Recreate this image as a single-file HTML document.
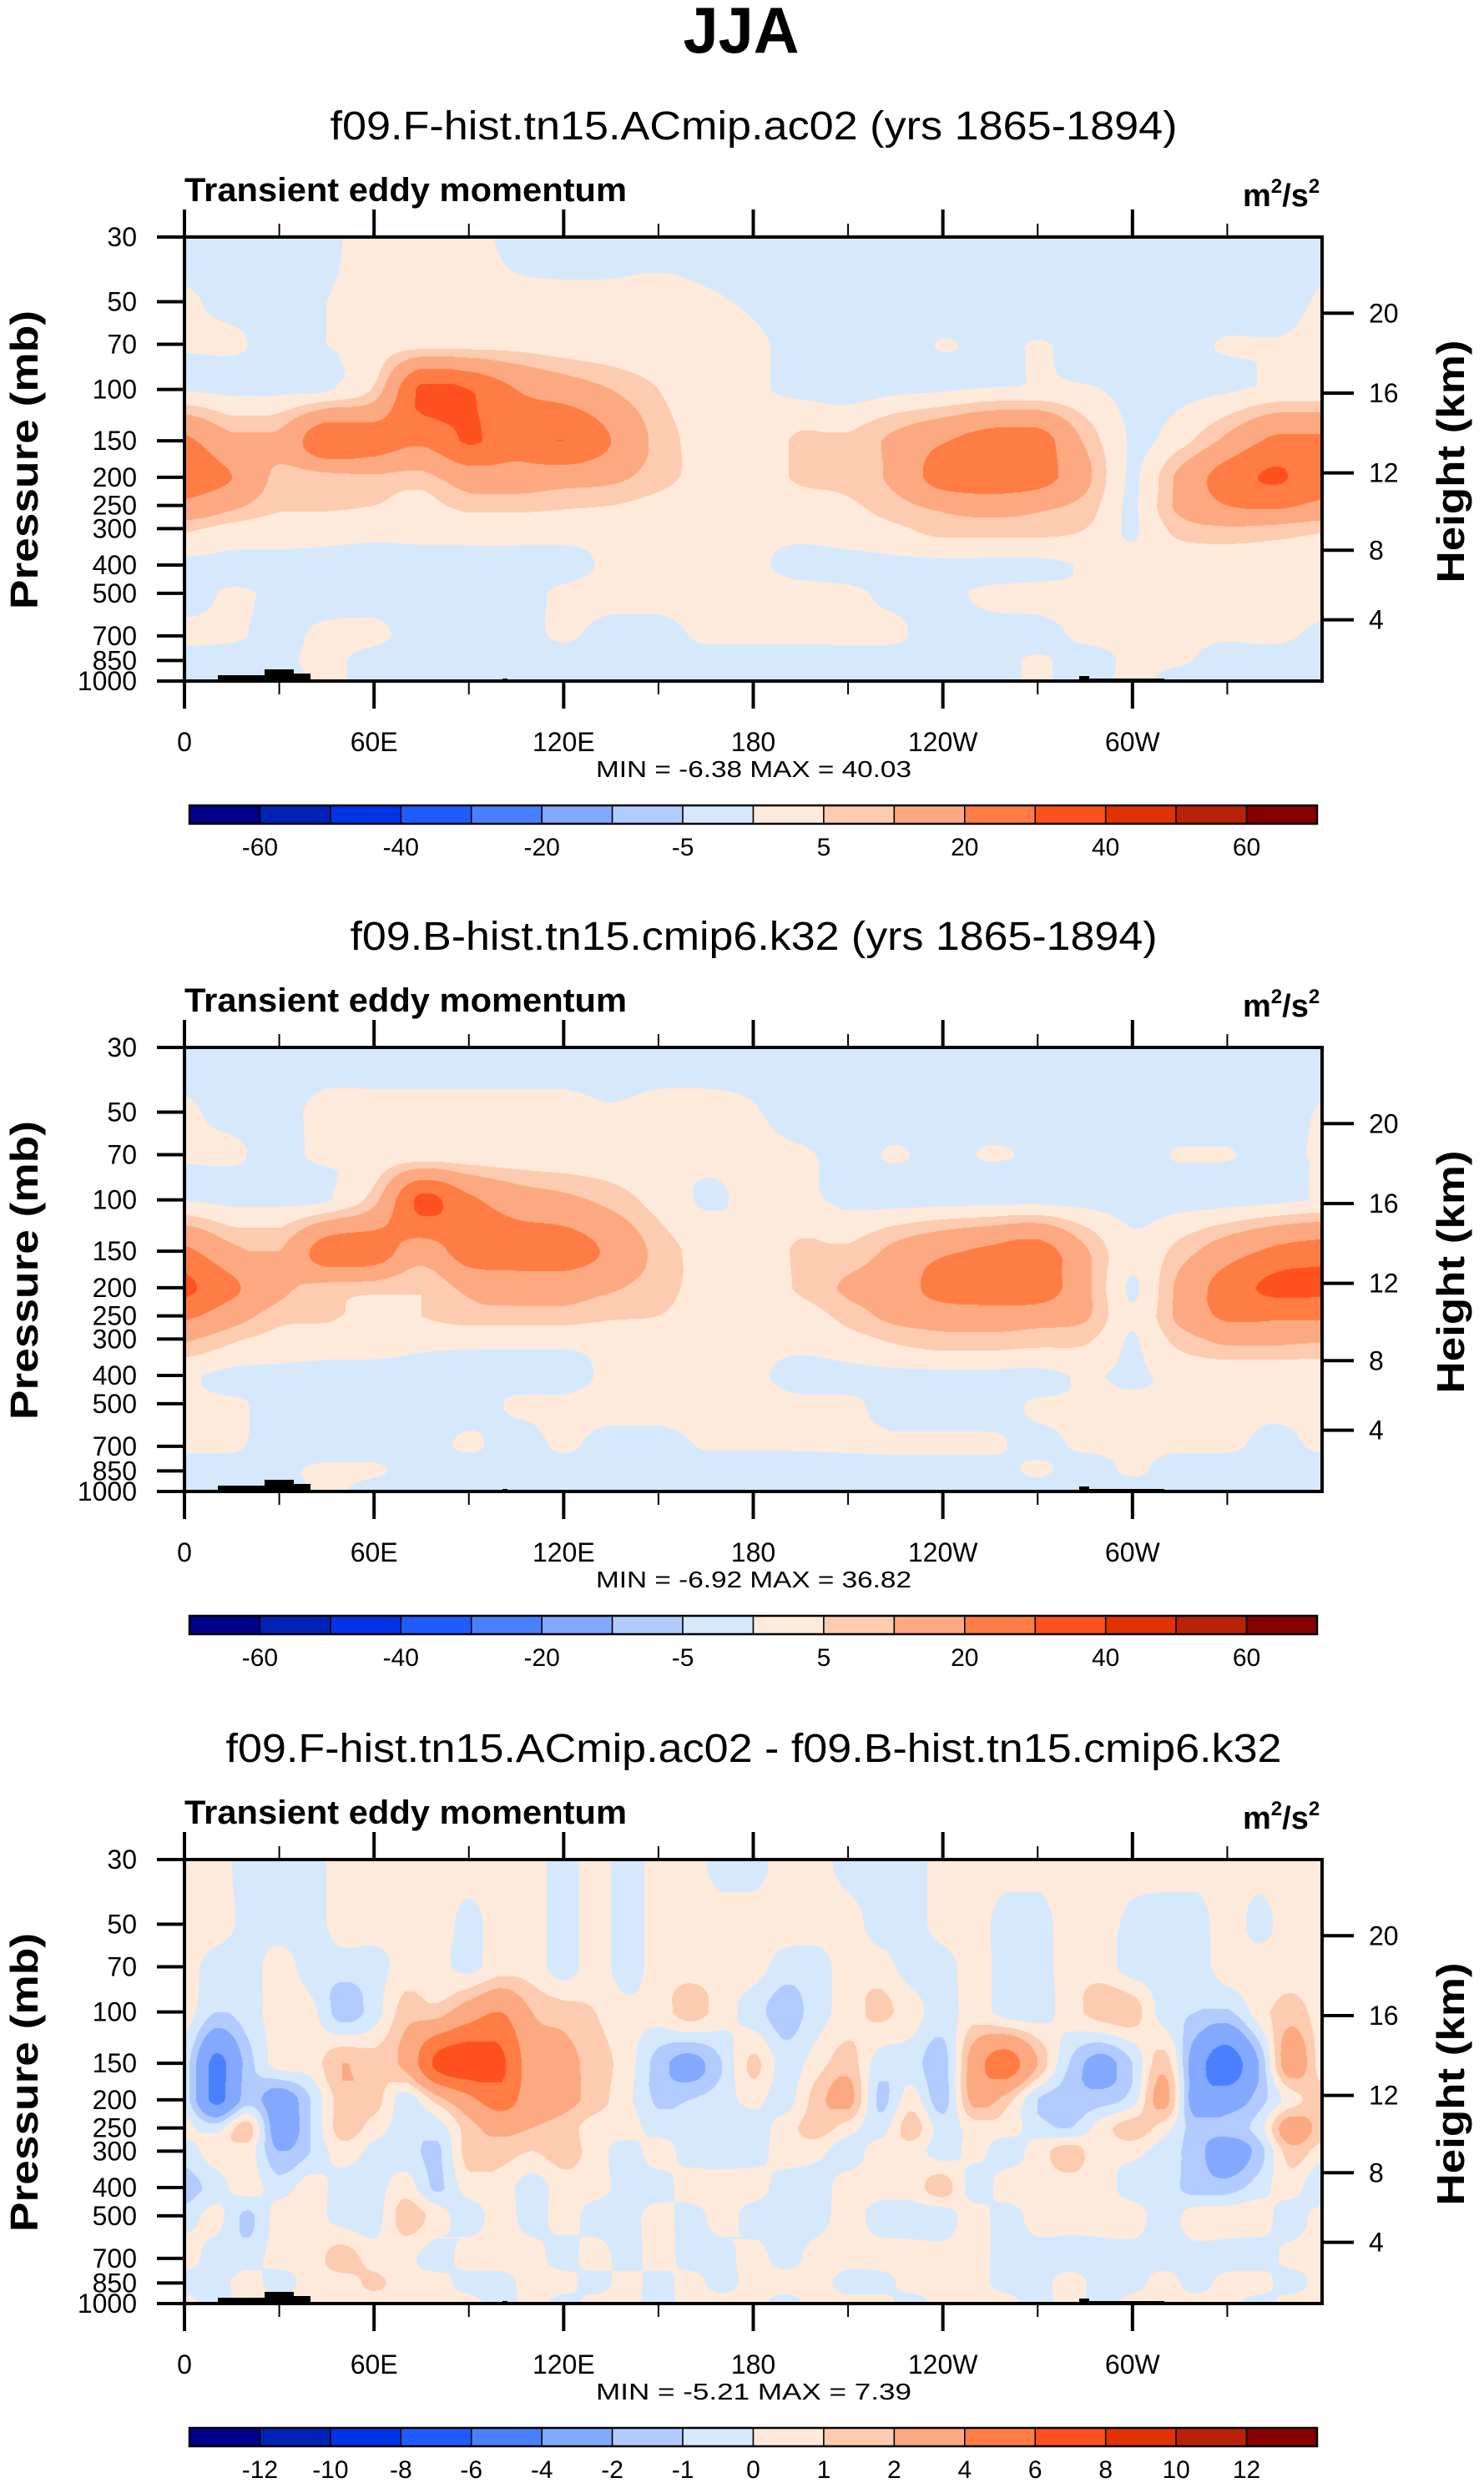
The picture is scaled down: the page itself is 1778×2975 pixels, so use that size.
<!DOCTYPE html>
<html><head><meta charset="utf-8"><title>JJA Transient eddy momentum</title>
<style>
html,body{margin:0;padding:0;background:#fff;}
#root{position:relative;width:1778px;height:2975px;overflow:hidden;background:#fff;}
canvas{position:absolute;}
svg{position:absolute;left:0;top:0;}
text{font-family:"Liberation Sans",Arial,sans-serif;fill:#000;}
</style></head>
<body>
<div id="root">
<canvas id="c0" width="1363" height="532" style="left:221px;top:284px"></canvas>
<canvas id="c1" width="1363" height="532" style="left:221px;top:1255px"></canvas>
<canvas id="c2" width="1363" height="532" style="left:221px;top:2228px"></canvas>
<svg id="svg" width="1778" height="2975" viewBox="0 0 1778 2975">
<text x="888" y="63" font-size="78" font-weight="bold" text-anchor="middle" textLength="139" lengthAdjust="spacingAndGlyphs">JJA</text>
</svg>
</div>
<script>
// ---------- data ----------
const levels = [30,50,70,100,150,200,250,300,400,500,700,850,1000];
const lonsA = [0,15,30,45,60,75,90,105,120,135,150,165,180,195,210,225,240,255,270,285,300,315,330,345,360];
const lonsB = [0,10,20,30,40,50,60,70,80,90,100,110,120,130,140,150,160,170,180,190,200,210,220,230,240,250,260,270,280,290,300,310,320,330,340,350,360];
const contourLevelsAbs = [-60,-50,-40,-30,-20,-10,-5,0,5,10,20,30,40,50,60];
const contourLevelsDiff = [-12,-10,-8,-6,-4,-2,-1,0,1,2,4,6,8,10,12];
const cbLabelsAbs = ["-60","-40","-20","-5","5","20","40","60"];
const cbLabelsDiff = ["-12","-10","-8","-6","-4","-2","-1","0","1","2","4","6","8","10","12"];
const xTickLons = [0,60,120,180,240,300];
const xTickLabels = ["0","60E","120E","180","120W","60W"];
const xMinorLons = [30,90,150,210,270,330];
const yTickLevels = [30,50,70,100,150,200,250,300,400,500,700,850,1000];
const heightTicks = [4,8,12,16,20];
const titles = ["f09.F-hist.tn15.ACmip.ac02 (yrs 1865-1894)","f09.B-hist.tn15.cmip6.k32 (yrs 1865-1894)","f09.F-hist.tn15.ACmip.ac02 - f09.B-hist.tn15.cmip6.k32"];
const titleWidths = [1015,967,1265];
const minmax = ["MIN =  -6.38  MAX =  40.03","MIN =  -6.92  MAX =  36.82","MIN =  -5.21  MAX =  7.39"];

const field1 = [
[-2,-2,-2,-1,2,1,1,-1,-2,-2,-2,-2,-2,-2,-2,-2,-2,-2,-2,-2,-2,-2,-2,-2,-2],
[0.5,-1,-1,0,1,1,1,1,1,1,1.5,0.5,-0.5,-2,-2,-2,-2,-2,-2,-2,-2,-2,-2,-2,0.5],
[0.5,0.5,-1,0,2,3,3,3,2,1.5,1,1,0.5,-1,-2,-2,0.2,-1,0.2,-1,-1,-1,0.3,0.3,1],
[-0.5,-1,-1,-0.5,6,32,30,20,15,10,5,1,0.5,-1,-2,-1,-0.5,0.5,1,0.5,-1,-1,-0.5,1,1],
[22,12,12,28,25,22,31,25,30,20,8,3,1.5,6,6,12,19,25,25,9,-0.5,3,12,22,22],
[25,20,8,8,9,8,15,15,14,12,7,3,1.5,6,7,12,25,28,25,12,-0.5,12,25,31,25],
[18,12,6,6,5,3,7,7,6,5,3,1,1,2,4,8,12,14,12,8,-0.5,12,20,22,18],
[6,3,2,1.5,1,1,1.5,1.5,1.5,1,1,0.5,0.5,1,2,4,7,7,7,5,-0.5,7,9,8,6],
[-1,-1,-1,-1,-1,-1,-1,-1,-1,0.5,1,0.5,0.5,-1,-1,-1,-1,-1,-1,0.3,1,1,1,1,1],
[-1,0.3,-0.5,-1,-1,-1,-1,-1,0.5,1,1,1,1,1,0.5,-0.5,-0.5,0.5,1,1,1,1,1,1,1],
[0.5,0.3,-0.5,0.5,0.5,-1,-1,-1,0.3,-1,-1,0.5,0.5,0.5,0.5,0.3,-1,-1,-1,0.5,0.5,0.5,0.3,0.5,-0.5],
[-1,-1,-0.5,0.5,-1,-2,-1,-1,-1,-1,-1,-1,-1,-1,-1,-1,-1,-1,0.3,-1,0.5,0.3,-1,-1,-1],
[-1,-1,-1,0.5,-1,-1.5,-1,-1,-1,-1,-1,-1,-1,-1,-1,-1,-1,-1,0.3,-1,0.5,-1,-1,-1,-1]];

const field2 = [
[-2,-2,-2,-2,-2,-2,-2,-2,-2,-2,-2,-2,-2,-2,-2,-2,-2,-2,-2,-2,-2,-2,-2,-2,-2],
[0.5,-1,-1,1,1,1,1,1,1,0.3,1,1,0.3,-2,-2,-2,-2,-2,-2,-2,-2,-2,-2,-2,0.3],
[0.5,0.5,-1,1,1.5,1.5,1.5,1.5,1.5,1.5,1.5,1,1,0.5,-1,0.3,-1,0.3,-0.5,-1,-1,0.2,0.2,-1,0.5],
[-0.3,-1,-1,-0.5,8,32,22,15,12,8,3,-0.5,1,1,-1,-1.5,-1.5,-1.5,-1.5,-1.5,-1.5,-1.5,-1.5,-1,0.3],
[22,12,10,25,25,15,25,25,25,18,8,3,1,6,6,12,18,22,25,11,1,7,15,22,25],
[32,22,12,8,7,5,12,14,14,11,7,3,1,6,11,14,25,27,27,12,-0.5,12,25,32,32],
[22,14,7,6,3,5,8,8,8,6,5,2,1,2,7,12,14,15,14,11,0.5,12,22,22,22],
[11,6,3,2,1.5,1,1,1,1,1,1,1,1,1,3,6,8,8,7,6,-0.3,7,12,12,11],
[0.5,-1,-1,-1,-1,-1,-1,-1,-1,0.5,0.5,1,0.5,-1,-1,-1,-1,-1,-1,0.3,-0.5,1,1,1,1],
[0.5,0.5,-1,-1,-1,-1,-1,0.3,0.5,1,1,1,1,0.5,0.5,-1,-1,-1,0.3,0.5,0.5,0.5,0.5,0.5,0.5],
[0.3,0.3,-1,-1,-1,-1,0.3,-1,0.3,-1,-1,0.2,0.2,0.2,0.3,0.3,0.3,0.3,-0.5,0.3,0.3,0.3,0.3,-0.5,0.3],
[-1,-1,-0.5,0.5,0.3,-1,-1.5,-0.5,-1,-1,-1,-1,-1,-1,-1,-1,-1,-1,0.3,-1,0.3,-1,-1,-0.5,-1],
[-1,-1,-1,0.5,-1,-1,-1,-1,-1,-1,-1,-1,-1,-1,-1,-1,-1,-1,-1,-1,-1,-1,-1,-1,-1]];

const field3 = [
[0.5,0.5,-0.5,-0.5,-0.5,0.5,0.5,0.5,0.5,0.5,0.5,0.5,-0.5,0.5,-0.5,0.5,0.5,-0.5,-0.5,0.5,0.5,-0.5,-0.5,-0.5,0.5,0.5,0.5,0.5,0.5,0.5,0.5,0.5,0.5,0.5,0.5,0.5,0.5],
[0.5,0.5,-0.3,-0.5,-0.5,0.5,0.5,0.3,0.5,-0.3,0.5,0.5,-0.5,0.5,-0.5,0.5,0.5,0.5,0.5,0.5,0.5,0.5,-0.5,-0.5,0.5,0.5,-0.5,-0.5,0.5,0.5,-0.3,-0.5,-0.5,0.5,-0.3,0.5,0.5],
[0.5,-0.5,-0.5,0.5,-0.5,-0.5,-0.5,0.5,0.3,-0.3,0.5,0.5,-0.5,0.5,-0.5,0.5,0.5,0.5,0.5,-0.5,-0.5,0.5,0.5,-0.5,-0.5,0.5,-0.5,-0.5,0.5,0.5,-0.5,-0.5,-0.5,0.5,0.5,0.5,0.5],
[0.5,-1,-0.5,0.5,0.3,-1.5,-0.5,1.5,1.5,3,4,2,1.5,1,0.3,0.5,1.5,0.5,-0.5,-1.5,-0.5,0.5,1.2,0.5,-0.5,0.5,-0.5,-0.5,0.5,1.5,1.5,-0.5,-1,-1.2,0.5,1.5,0.5],
[-0.5,-4.5,-1.5,0.5,0.5,2,1.5,2.5,6.5,7.3,6.5,3,2.5,1.5,0.5,-1.5,-2.5,-1,1.2,-0.5,0.5,1.5,-0.5,-0.5,-1.5,3,5,2,-1,-2.5,-1,1.5,-3,-5,-2,3,0.5],
[-0.5,-4.5,-1.5,-3,-1,1.5,1.5,-0.5,1.5,3.5,5,3,2.5,1.5,0.3,-1.2,-1,-0.5,0.3,-0.5,1.5,2.5,-1.2,0.5,-1.5,2.5,1.5,-1,-1.5,-1.5,-0.5,2.5,-3,-3,-1.5,0.5,1.5],
[0.3,-0.5,1.5,-3,-1,1.5,0.5,-0.5,-0.5,1.5,2.5,2,1.5,0.5,0.5,-0.5,-0.5,-0.5,-0.5,0.5,1.5,0.5,-0.5,1.5,-0.5,0.5,0.5,-0.5,-1,0.5,1.5,0.5,-1.5,-1.5,-0.5,3,1.5],
[-0.5,0.5,0.5,-2,-1,0.5,-0.3,-0.5,-1.2,1.5,1.5,1,1.5,0.5,-0.5,0.5,-0.5,-0.5,-0.5,0.5,0.3,-0.5,0.5,0.5,-0.5,0.3,-0.5,0.5,1.5,0.3,0.3,-0.5,-1.5,-3,-1.5,1.5,0.5],
[-1.5,-0.5,0.5,-0.5,0.5,-0.5,-0.5,0.5,-1.2,0.5,0.5,-0.5,0.5,0.5,-0.5,-0.5,0.5,0.5,0.5,-0.5,-0.5,0.5,0.5,0.5,1.5,-0.5,0.5,0.5,0.5,0.5,-0.5,-0.5,-1.5,-1.5,-0.5,0.5,-1],
[-0.5,0.3,-1.2,0.5,0.5,-0.5,-0.5,1.5,0.5,-0.5,0.5,-0.5,0.5,-0.5,-0.5,0.5,-0.5,0.5,-0.5,-0.5,-0.5,0.5,-0.5,-0.5,-0.5,0.5,-0.5,0.5,0.5,0.5,0.5,-0.5,0.5,0.5,0.5,-0.5,0.5],
[0.5,-0.5,-0.5,0.5,0.5,1.5,0.5,0.3,-0.5,0.5,0.5,0.5,-0.5,0.5,-0.5,0.5,-0.5,-0.5,0.5,-0.5,0.5,0.5,0.5,0.5,0.5,0.5,-0.5,-0.5,-0.5,-0.5,-0.5,-0.5,-0.5,-0.5,-0.5,0.3,0.5],
[-0.5,-0.5,0.5,-0.5,0.5,0.5,1.2,0.5,0.5,-0.5,-0.5,0.5,0.5,-0.5,0.5,-0.5,0.5,-0.5,0.5,0.5,0.5,-0.5,-0.5,0.5,0.5,0.5,-0.5,-0.5,0.5,-0.5,-0.5,0.5,-0.5,0.5,0.5,-0.5,0.5],
[0.5,-0.5,0.5,0.5,0.5,0.5,0.5,0.5,0.5,0.5,-0.5,0.5,-0.5,0.5,0.5,-0.5,0.5,0.5,0.5,-0.5,0.5,0.5,0.5,-0.5,0.5,0.5,0.5,-0.5,0.5,-0.5,0.5,0.5,0.5,0.5,-0.5,0.5,0.5]];

const palette = ["#00008a","#0022b4","#0033e6","#1f5cff","#4a80ff","#82a8ff","#b2cbff","#d6e8fc","#feeada","#fdcbb0","#fca981","#ff7d45","#ff511e","#e03203","#b82206","#870000"];

// ---------- geometry ----------
const PL=221, PR=1584, PT=284, PB=816;
const offsets=[0,971,1944];
const LNR=Math.log(1000/30);
function xOf(lon){return PL+lon/360*(PR-PL);}
function yOf(p,off){return PT+off+Math.log(p/30)/LNR*(PB-PT);}
function pOfZ(zkm){const z=zkm*1000; if(z<=11000) return 1013.25*Math.pow(1-2.25577e-5*z,5.25588); return 226.32*Math.exp(-(z-11000)/6341.6);}

// ---------- contour rendering ----------
function hex(c){return [parseInt(c.substr(1,2),16),parseInt(c.substr(3,2),16),parseInt(c.substr(5,2),16)];}
const palRGB=palette.map(hex);
function cr(p0,p1,p2,p3,t){
  const v=0.5*((2*p1)+(-p0+p2)*t+(2*p0-5*p1+4*p2-p3)*t*t+(-p0+3*p1-3*p2+p3)*t*t*t);
  const lo=Math.min(p1,p2), hi=Math.max(p1,p2);
  return Math.max(lo,Math.min(hi,v));
}
function get(a,i){return a[Math.max(0,Math.min(a.length-1,i))];}
function render(cid,field,lons,lev){
  const cv=document.getElementById(cid), ctx=cv.getContext('2d');
  const W=cv.width,H=cv.height, img=ctx.createImageData(W,H), d=img.data;
  const lnl=levels.map(p=>Math.log(p));
  const nc=lons.length;
  for(let y=0;y<H;y++){
    const lp=Math.log(30)+(y+0.5)/H*LNR;
    let k=0; while(k<lnl.length-2 && lp>lnl[k+1]) k++;
    const t=(lp-lnl[k])/(lnl[k+1]-lnl[k]);
    const col=new Array(nc);
    for(let j=0;j<nc;j++){
      col[j]=cr(get(field,k-1)[j]??0,field[k][j]??0,field[k+1][j]??0,get(field,k+2)[j]??0,t);
    }
    for(let x=0;x<W;x++){
      const lon=(x+0.5)/W*360;
      let j=0; while(j<nc-2 && lon>lons[j+1]) j++;
      const s=(lon-lons[j])/(lons[j+1]-lons[j]);
      const v=cr(get(col,j-1),col[j],col[j+1],get(col,j+2),s);
      let ci=0; while(ci<lev.length && v>=lev[ci]) ci++;
      const c=palRGB[ci], o=(y*W+x)*4;
      d[o]=c[0];d[o+1]=c[1];d[o+2]=c[2];d[o+3]=255;
    }
  }
  ctx.putImageData(img,0,0);
}
render('c0',field1,lonsA,contourLevelsAbs);
render('c1',field2,lonsA,contourLevelsAbs);
render('c2',field3,lonsB,contourLevelsDiff);

// ---------- SVG overlay ----------
const NS="http://www.w3.org/2000/svg";
const svg=document.getElementById('svg');
function el(tag,attrs,parent){const e=document.createElementNS(NS,tag);for(const k in attrs)e.setAttribute(k,attrs[k]);(parent||svg).appendChild(e);return e;}
function txt(parent,x,y,str,size,extra){const e=el('text',Object.assign({x:x,y:y,'font-size':size},extra||{}),parent);e.textContent=str;return e;}

for(let pi=0;pi<3;pi++){
  const off=offsets[pi];
  const g=el('g',{});
  
  
  const t=txt(g,903,167+off,titles[pi],48,{'text-anchor':'middle',textLength:titleWidths[pi],lengthAdjust:'spacingAndGlyphs'});
  
  
  const lt=txt(g,221,241+off,"Transient eddy momentum",40,{'font-weight':'bold',textLength:530,lengthAdjust:'spacingAndGlyphs'});
  
  
  const u=el('text',{x:1489,y:247+off,'font-size':38,'font-weight':'bold'},g);
  
  
  u.innerHTML='m<tspan dy="-16" font-size="24">2</tspan><tspan dy="16">/s</tspan><tspan dy="-16" font-size="24">2</tspan>';
  // topography
  const topo=[[261,317,7],[317,352,14],[352,372,9],[602,608,3],[1293,1305,6],[1305,1395,3]];
  topo.forEach(tp=>{const r=el('rect',{x:tp[0],y:PB+off-tp[2],width:tp[1]-tp[0],height:tp[2],fill:'#000'},g);
    
    });
  // border
  const b=el('rect',{x:PL,y:PT+off,width:PR-PL,height:PB-PT,fill:'none',stroke:'#000','stroke-width':4},g);
  
  
  // x ticks
  xTickLons.forEach((lon,i)=>{
    const x=xOf(lon);
    el('line',{x1:x,x2:x,y1:PT+off-33,y2:PT+off,stroke:'#000','stroke-width':4},g);
    el('line',{x1:x,x2:x,y1:PB+off,y2:PB+off+33,stroke:'#000','stroke-width':4},g);
    const l=txt(g,x,900+off,xTickLabels[i],32,{'text-anchor':'middle'});
    
    
  });
  xMinorLons.forEach(lon=>{const x=xOf(lon);
    el('line',{x1:x,x2:x,y1:PT+off-16,y2:PT+off,stroke:'#000','stroke-width':2},g);
    el('line',{x1:x,x2:x,y1:PB+off,y2:PB+off+16,stroke:'#000','stroke-width':2},g);});
  // y ticks
  yTickLevels.forEach(p=>{const y=yOf(p,off);
    el('line',{x1:188,x2:PL,y1:y,y2:y,stroke:'#000','stroke-width':4},g);
    const l=txt(g,164,y+11,String(p),32,{'text-anchor':'end'});
    
    });
  heightTicks.forEach(h=>{const y=yOf(pOfZ(h),off);
    el('line',{x1:PR,x2:1622,y1:y,y2:y,stroke:'#000','stroke-width':4},g);
    const l=txt(g,1640,y+11,String(h),32);
    
    });
  const ya=txt(g,0,0,"Pressure (mb)",46,{'font-weight':'bold','text-anchor':'middle',transform:'translate(45,'+(551+off)+') rotate(-90)',textLength:358,lengthAdjust:'spacingAndGlyphs'});
  
  
  const ha=txt(g,0,0,"Height (km)",46,{'font-weight':'bold','text-anchor':'middle',transform:'translate(1754,'+(553+off)+') rotate(-90)',textLength:291,lengthAdjust:'spacingAndGlyphs'});
  
  
  const mm=txt(g,903,931+off,minmax[pi],28,{'text-anchor':'middle',textLength:378,lengthAdjust:'spacingAndGlyphs'});
  
  
  // colorbar
  const cbx0=227,cbx1=1578,cby=965+off,cbh=22,bw=(cbx1-cbx0)/16;
  for(let i=0;i<16;i++){
    const r=el('rect',{x:cbx0+i*bw,y:cby,width:bw,height:cbh,fill:palette[i],stroke:'#000','stroke-width':1.5},g);
    
    
  }
  el('rect',{x:cbx0,y:cby,width:cbx1-cbx0,height:cbh,fill:'none',stroke:'#000','stroke-width':2.5},g);
  const labs=pi<2?cbLabelsAbs:cbLabelsDiff;
  labs.forEach((s,i)=>{const bi=pi<2?1+2*i:1+i;
    const l=txt(g,cbx0+bi*bw,1025+off,s,30,{'text-anchor':'middle'});
    
    });
}
</script>
</body></html>
